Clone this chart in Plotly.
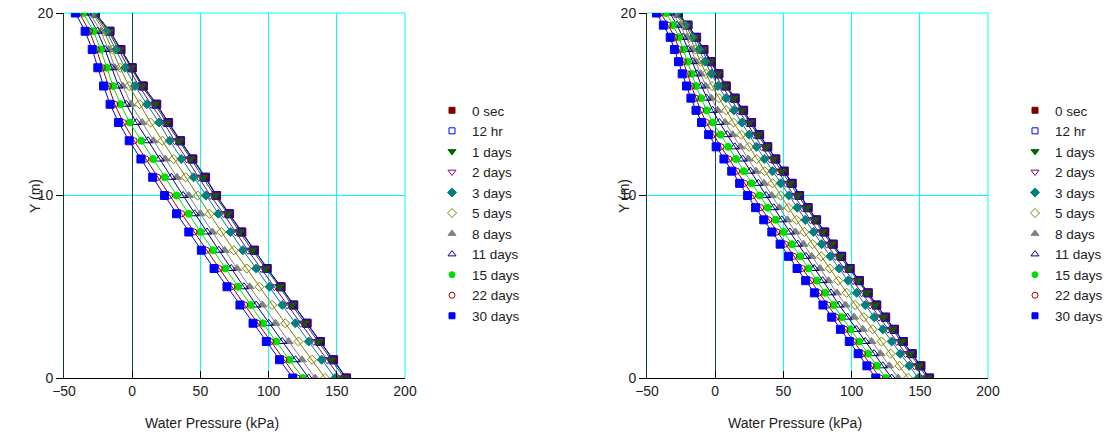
import plotly.graph_objects as go

W, H = 1111, 438

names = ["0 sec", "12 hr", "1 days", "2 days", "3 days", "5 days", "8 days",
         "11 days", "15 days", "22 days", "30 days"]

# Left chart: nodes every 1 m
y_left = [0, 1, 2, 3, 4, 5, 6, 7, 8, 9, 10, 11, 12, 13, 14, 15, 16, 17, 18, 19, 20]
p_left_0sec = [157.2, 147.7, 138.0, 128.3, 118.5, 109.2, 99.0, 89.7, 80.4, 71.4, 61.9, 53.8, 44.5, 35.5, 26.7, 18.0, 8.2, 0.1, -8.2, -16.3, -27.0]
p_left_12hr = [156.8, 147.2, 137.6, 127.8, 118.0, 108.8, 98.6, 89.2, 79.9, 71.0, 61.5, 53.3, 44.0, 35.1, 26.2, 17.6, 7.8, -0.3, -8.5, -16.4, -27.1]
p_left_1d = [155.6, 145.8, 136.5, 126.3, 117.0, 108.0, 97.7, 88.0, 78.7, 70.1, 60.4, 51.8, 42.6, 34.3, 25.0, 16.6, 7.0, -0.9, -8.9, -16.5, -27.2]
p_left_2d = [152.6, 142.9, 133.1, 123.4, 113.6, 104.3, 94.6, 84.8, 75.8, 67.0, 57.3, 48.9, 40.1, 31.1, 23.1, 13.8, 5.0, -2.8, -10.1, -17.4, -27.7]
p_left_3d = [148.8, 138.9, 129.4, 119.7, 110.0, 100.7, 90.9, 81.1, 72.1, 63.1, 54.0, 45.0, 36.0, 27.5, 19.6, 10.8, 2.0, -5.3, -11.9, -18.9, -28.2]
p_left_5d = [141.4, 131.9, 121.9, 112.2, 102.6, 93.3, 84.0, 74.5, 65.3, 56.7, 48.0, 39.2, 30.4, 22.1, 13.5, 5.4, -2.3, -8.9, -14.5, -20.6, -29.1]
p_left_8d = [134.1, 124.4, 114.6, 105.0, 95.5, 86.1, 76.8, 67.7, 58.8, 50.0, 41.4, 32.8, 24.2, 15.6, 7.3, -0.9, -7.0, -12.6, -17.4, -23.1, -31.1]
p_left_11d = [129.4, 119.7, 110.0, 100.1, 90.9, 81.9, 72.6, 63.5, 54.8, 45.8, 37.3, 28.7, 20.1, 11.6, 3.1, -4.4, -10.1, -15.0, -19.9, -25.5, -33.1]
p_left_15d = [125.0, 115.3, 105.6, 95.8, 86.8, 77.5, 68.4, 59.2, 50.1, 41.4, 32.6, 23.8, 15.2, 6.7, -1.8, -8.6, -14.1, -18.7, -23.1, -28.4, -36.0]
p_left_22d = [120.9, 111.2, 101.5, 91.9, 82.5, 73.1, 63.8, 54.5, 45.3, 36.3, 27.5, 18.7, 10.0, 1.4, -6.5, -12.8, -17.4, -21.8, -26.2, -31.3, -38.9]
p_left_30d = [117.7, 108.0, 98.3, 88.6, 79.0, 69.5, 60.0, 50.7, 41.5, 32.5, 23.7, 15.0, 6.4, -2.2, -10.0, -16.2, -21.0, -25.2, -29.3, -34.5, -41.7]

# Right chart: nodes every 2/3 m
y_right = [0, 0.667, 1.333, 2, 2.667, 3.333, 4, 4.667, 5.333, 6, 6.667, 7.333, 8, 8.667, 9.333, 10,
           10.667, 11.333, 12, 12.667, 13.333, 14, 14.667, 15.333, 16, 16.667, 17.333, 18, 18.667, 19.333, 20]
p_right_0sec = [157.2, 150.9, 144.5, 138.0, 131.5, 125.0, 118.5, 112.3, 105.8, 99.0, 92.8, 86.6, 80.4, 74.4, 68.2, 61.9, 56.5, 50.7, 44.5, 38.6, 32.6, 26.7, 20.9, 14.7, 8.2, 2.8, -2.7, -8.2, -13.6, -19.9, -27.0]
p_right_12hr = [156.8, 150.5, 144.1, 137.6, 131.1, 124.6, 118.1, 111.9, 105.4, 98.6, 92.4, 86.2, 80.0, 74.0, 67.8, 61.5, 56.1, 50.3, 44.1, 38.2, 32.2, 26.3, 20.5, 14.3, 7.8, 2.4, -3.1, -8.5, -13.9, -20.1, -27.1]
p_right_1d = [155.6, 149.1, 142.7, 136.5, 129.7, 123.2, 117.0, 111.0, 104.6, 97.7, 91.2, 84.9, 78.7, 73.0, 66.9, 60.4, 54.7, 48.7, 42.6, 37.1, 31.2, 25.0, 19.4, 13.4, 7.0, 1.7, -3.6, -8.9, -14.0, -20.1, -27.2]
p_right_2d = [152.6, 146.1, 139.6, 133.1, 126.6, 120.1, 113.6, 107.4, 101.1, 94.6, 88.1, 81.8, 75.8, 69.9, 63.8, 57.3, 51.7, 46.0, 40.1, 34.1, 28.4, 23.1, 16.9, 10.9, 5.0, -0.2, -5.2, -10.1, -15.0, -20.8, -27.7]
p_right_3d = [148.8, 142.2, 135.7, 129.4, 122.9, 116.5, 110.0, 103.8, 97.4, 90.9, 84.4, 78.1, 72.1, 66.1, 60.1, 54.0, 48.0, 42.0, 36.0, 30.3, 24.9, 19.6, 13.7, 7.9, 2.0, -2.9, -7.5, -11.9, -16.6, -22.0, -28.2]
p_right_5d = [141.4, 135.1, 128.6, 121.9, 115.4, 109.0, 102.6, 96.4, 90.2, 84.0, 77.7, 71.4, 65.3, 59.6, 53.8, 48.0, 42.1, 36.3, 30.4, 24.9, 19.2, 13.5, 8.1, 2.8, -2.3, -6.7, -10.8, -14.5, -18.6, -23.4, -29.1]
p_right_8d = [134.1, 127.6, 121.1, 114.6, 108.2, 101.8, 95.5, 89.2, 83.0, 76.8, 70.7, 64.7, 58.8, 52.9, 47.1, 41.4, 35.7, 29.9, 24.2, 18.5, 12.8, 7.3, 1.8, -2.9, -7.0, -10.7, -14.2, -17.4, -21.2, -25.8, -31.1]
p_right_11d = [129.4, 122.9, 116.5, 110.0, 103.4, 97.0, 90.9, 84.9, 78.8, 72.6, 66.5, 60.6, 54.8, 48.8, 43.0, 37.3, 31.6, 25.8, 20.1, 14.4, 8.8, 3.1, -1.9, -6.3, -10.1, -13.4, -16.6, -19.9, -23.6, -28.0, -33.1]
p_right_15d = [125.0, 118.5, 112.1, 105.6, 99.1, 92.8, 86.8, 80.6, 74.5, 68.4, 62.3, 56.2, 50.1, 44.3, 38.5, 32.6, 26.7, 20.9, 15.2, 9.5, 3.9, -1.8, -6.3, -10.4, -14.1, -17.2, -20.2, -23.1, -26.6, -30.9, -36.0]
p_right_22d = [120.9, 114.4, 108.0, 101.5, 95.1, 88.8, 82.5, 76.2, 70.0, 63.8, 57.6, 51.4, 45.3, 39.3, 33.4, 27.5, 21.6, 15.8, 10.0, 4.3, -1.2, -6.5, -10.7, -14.3, -17.4, -20.3, -23.3, -26.2, -29.6, -34.5, -40.0]
p_right_30d = [117.7, 111.2, 104.8, 98.3, 91.8, 85.4, 79.0, 72.7, 66.3, 60.0, 53.8, 47.6, 41.5, 35.6, 29.6, 23.7, 17.9, 12.1, 6.4, 0.7, -4.8, -10.0, -14.1, -17.8, -21.0, -24.2, -26.9, -29.9, -33.0, -38.0, -43.0]

x_ticks = [-50, 0, 50, 100, 150, 200]
y_ticks = [0, 10, 20]

left_series = [p_left_0sec, p_left_12hr, p_left_1d, p_left_2d, p_left_3d, p_left_5d,
               p_left_8d, p_left_11d, p_left_15d, p_left_22d, p_left_30d]
right_series = [p_right_0sec, p_right_12hr, p_right_1d, p_right_2d, p_right_3d, p_right_5d,
                p_right_8d, p_right_11d, p_right_15d, p_right_22d, p_right_30d]

# colour, symbol, plot marker size, legend marker size
styles = [
    ("#800000", "square", 8, 6),
    ("#0000FF", "square-open", 8, 6),
    ("#006400", "triangle-down", 8, 7),
    ("#800080", "triangle-down-open", 8, 7),
    ("#008080", "diamond", 7, 7),
    ("#808000", "diamond-open", 7, 7),
    ("#808080", "triangle-up", 8, 7),
    ("#000080", "triangle-up-open", 8, 7),
    ("#00E000", "circle", 7, 6),
    ("#A00000", "circle-open", 6, 6),
    ("#0000FF", "square", 8, 6),
]

fig = go.Figure()
for series, xa, ya, lg in [(left_series, "x", "y", "legend"), (right_series, "x2", "y2", "legend2")]:
    y_vals = y_left if xa == "x" else y_right
    for i, name in enumerate(names):
        color, sym, size, lsize = styles[i]
        fig.add_trace(go.Scatter(
            x=series[i], y=y_vals, name=name, mode="lines+markers",
            line=dict(color=color, width=1),
            marker=dict(color=color, symbol=sym, size=size, line=dict(color=color, width=1)),
            xaxis=xa, yaxis=ya, showlegend=False))
    # legend entries (markers only, as in the reference legend)
    for i, name in enumerate(names):
        color, sym, size, lsize = styles[i]
        fig.add_trace(go.Scatter(
            x=[None], y=[None], name=name, mode="markers",
            marker=dict(color=color, symbol=sym, size=lsize, line=dict(color=color, width=1)),
            xaxis=xa, yaxis=ya, legend=lg, showlegend=True))

font = dict(family="Liberation Sans, Arial, sans-serif", size=14, color="#222222")
lfont = dict(family="Liberation Sans, Arial, sans-serif", size=13.5, color="#222222")
grid = "#00FFFF"

def xaxis(domain, anchor):
    return dict(domain=domain, anchor=anchor, range=[-50, 200], tickvals=x_ticks,
                showgrid=True, gridcolor=grid, gridwidth=1,
                zeroline=True, zerolinecolor="#0B4848", zerolinewidth=1,
                showline=True, linecolor="#000000", linewidth=1,
                ticks="inside", ticklen=7, tickcolor="#000000",
                tickfont=font, fixedrange=True)

def yaxis(anchor):
    return dict(domain=[60 / H, 425 / H], anchor=anchor, range=[0, 20], tickvals=y_ticks,
                showgrid=True, gridcolor=grid, gridwidth=1, zeroline=False,
                showline=True, linecolor="#0B3535", linewidth=1,
                ticks="outside", ticklen=7, tickcolor="#000000",
                tickfont=font, fixedrange=True)

# cyan frame on top and right sides of each plot area (domain coordinates)
frame = []
for xr, yr in [("x domain", "y domain"), ("x2 domain", "y2 domain")]:
    frame.append(dict(type="line", xref=xr, yref=yr, x0=0, x1=1, y0=1, y1=1,
                      line=dict(color=grid, width=1), layer="below"))
    frame.append(dict(type="line", xref=xr, yref=yr, x0=1, x1=1, y0=0, y1=1,
                      line=dict(color=grid, width=1), layer="below"))

fig.update_layout(
    width=W, height=H,
    margin=dict(l=0, r=0, t=0, b=0, autoexpand=False),
    paper_bgcolor="white", plot_bgcolor="white",
    font=font,
    xaxis=xaxis([64 / W, 405 / W], "y"),
    yaxis=yaxis("x"),
    xaxis2=xaxis([647 / W, 988 / W], "y2"),
    yaxis2=yaxis("x2"),
    legend=dict(x=432 / W, y=1 - 95 / H, xanchor="left", yanchor="top",
                bgcolor="rgba(0,0,0,0)", font=lfont, tracegroupgap=0),
    legend2=dict(x=1015 / W, y=1 - 95 / H, xanchor="left", yanchor="top",
                 bgcolor="rgba(0,0,0,0)", font=lfont, tracegroupgap=0),
    showlegend=True,
    shapes=frame,
    annotations=[
        dict(text="Water Pressure (kPa)", x=212 / W, y=1 - 423 / H, xref="paper", yref="paper",
             showarrow=False, font=font, xanchor="center", yanchor="middle"),
        dict(text="Water Pressure (kPa)", x=795 / W, y=1 - 423 / H, xref="paper", yref="paper",
             showarrow=False, font=font, xanchor="center", yanchor="middle"),
        dict(text="Y (m)", x=35 / W, y=1 - 196 / H, xref="paper", yref="paper", textangle=-90,
             showarrow=False, font=font, xanchor="center", yanchor="middle"),
        dict(text="Y (m)", x=624 / W, y=1 - 196 / H, xref="paper", yref="paper", textangle=-90,
             showarrow=False, font=font, xanchor="center", yanchor="middle"),
    ],
)

# remove the browser's default page margin so the figure sits at the window origin
fig.write_html("out.html", config={"displayModeBar": False},
               post_script="document.body.style.margin='0px';")
